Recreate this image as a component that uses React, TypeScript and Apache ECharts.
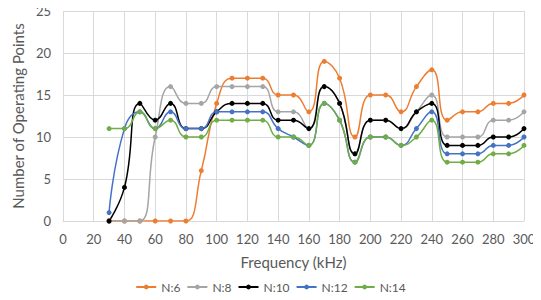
import React, { useEffect, useRef } from "react";
import * as echarts from "echarts";

const freqs = [30, 40, 50, 60, 70, 80, 90, 100, 110, 120, 130, 140, 150, 160, 170, 180, 190, 200, 210, 220, 230, 240, 250, 260, 270, 280, 290, 300];
const n6 = [0, 0, 0, 0, 0, 0, 6, 14, 17, 17, 17, 15, 15, 13, 19, 17, 10, 15, 15, 13, 16, 18, 12, 13, 13, 14, 14, 15];
const n8 = [0, 0, 0, 10, 16, 14, 14, 16, 16, 16, 16, 13, 13, 11, 16, 14, 8, 12, 12, 11, 13, 15, 10, 10, 10, 12, 12, 13];
const n10 = [0, 4, 14, 12, 14, 11, 11, 13, 14, 14, 14, 12, 12, 11, 16, 14, 8, 12, 12, 11, 13, 14, 9, 9, 9, 10, 10, 11];
const n12 = [1, 11, 13, 11, 13, 11, 11, 13, 13, 13, 13, 11, 10, 9, 14, 12, 7, 10, 10, 9, 11, 13, 8, 8, 8, 9, 9, 10];
const n14 = [11, 11, 13, 11, 12, 10, 10, 12, 12, 12, 12, 10, 10, 9, 14, 12, 7, 10, 10, 9, 10, 12, 7, 7, 7, 8, 8, 9];

const seriesDefs = [
  { name: "N:6", data: n6, color: "#ED7D31" },
  { name: "N:8", data: n8, color: "#A5A5A5" },
  { name: "N:10", data: n10, color: "#000000" },
  { name: "N:12", data: n12, color: "#4472C4" },
  { name: "N:14", data: n14, color: "#70AD47" },
];

const FONT = "Lato, 'Open Sans', sans-serif";

export default function App() {
  const ref = useRef<HTMLDivElement>(null);
  useEffect(() => {
    if (!ref.current) return;
    const chart = echarts.init(ref.current, undefined, { renderer: "svg" });
    chart.setOption({
      animation: false,
      backgroundColor: "#ffffff",
      textStyle: { fontFamily: FONT },
      grid: { left: 63, right: 17, top: 11, bottom: 79, containLabel: false },
      legend: {
        bottom: 2,
        left: "center",
        itemWidth: 20,
        itemHeight: 6,
        itemGap: 6,
        textStyle: { color: "#595959", fontSize: 12, fontFamily: FONT },
        data: seriesDefs.map((s) => s.name),
      },
      xAxis: {
        type: "value",
        min: 0,
        max: 300,
        interval: 20,
        name: "Frequency (kHz)",
        nameLocation: "middle",
        nameGap: 33,
        nameTextStyle: { color: "#595959", fontSize: 15, fontFamily: FONT },
        axisLine: { show: true, lineStyle: { color: "#D9D9D9" } },
        axisTick: { show: false },
        axisLabel: { color: "#595959", fontSize: 13, margin: 11, fontFamily: FONT },
        splitLine: { show: true, lineStyle: { color: "#D9D9D9" } },
      },
      yAxis: {
        type: "value",
        min: 0,
        max: 25,
        interval: 5,
        name: "Number of Operating Points",
        nameLocation: "middle",
        nameGap: 38,
        nameTextStyle: { color: "#595959", fontSize: 15, fontFamily: FONT },
        axisLine: { show: false },
        axisTick: { show: false },
        axisLabel: { color: "#595959", fontSize: 13, margin: 12, fontFamily: FONT },
        splitLine: { show: true, lineStyle: { color: "#D9D9D9" } },
      },
      series: seriesDefs.map((s) => ({
        name: s.name,
        type: "line",
        smooth: 0.5,
        symbol: "circle",
        symbolSize: 5,
        data: freqs.map((f, i) => [f, s.data[i]]),
        lineStyle: { color: s.color, width: 1.5 },
        itemStyle: { color: s.color },
      })),
    });
    return () => chart.dispose();
  }, []);
  return <div ref={ref} style={{ width: 541, height: 300, margin: -8 }} />;
}
